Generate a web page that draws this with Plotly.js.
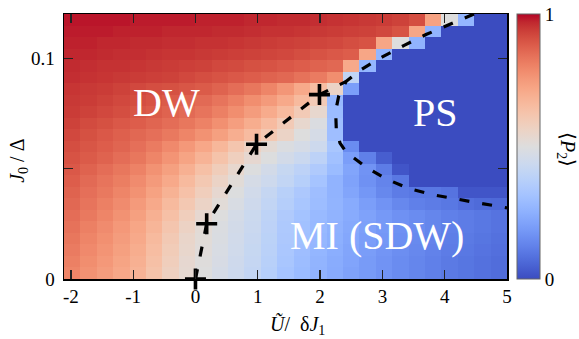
<!DOCTYPE html>
<html><head><meta charset="utf-8">
<script src="https://cdn.plot.ly/plotly-3.0.1.min.js"></script>
<style>html,body{margin:0;padding:0;background:#fff}</style>
</head><body><div id="chart" style="width:579px;height:339px"></div>
<script>
// <P2> values, rows from J0/Δ = 0 (bottom) upward, 27 columns from left to right
const p2Rows = [
[0.80,0.77,0.745,0.715,0.68,0.63,0.575,0.53,0.50,0.47,0.44,0.41,0.37,0.32,0.29,0.26,0.235,0.21,0.19,0.17,0.15,0.135,0.12,0.105,0.095,0.085,0.075],
[0.81,0.78,0.755,0.725,0.69,0.64,0.585,0.535,0.505,0.475,0.445,0.415,0.375,0.33,0.295,0.265,0.24,0.215,0.19,0.17,0.15,0.135,0.12,0.105,0.095,0.085,0.075],
[0.82,0.79,0.765,0.735,0.70,0.65,0.595,0.545,0.51,0.48,0.45,0.42,0.38,0.335,0.30,0.27,0.245,0.22,0.195,0.175,0.155,0.14,0.125,0.11,0.10,0.09,0.08],
[0.83,0.80,0.775,0.745,0.71,0.66,0.605,0.55,0.515,0.485,0.455,0.425,0.385,0.34,0.305,0.275,0.25,0.225,0.20,0.18,0.16,0.145,0.13,0.115,0.105,0.095,0.085],
[0.84,0.81,0.785,0.755,0.72,0.675,0.62,0.565,0.52,0.49,0.46,0.43,0.39,0.345,0.31,0.28,0.255,0.23,0.205,0.185,0.165,0.15,0.135,0.12,0.11,0.10,0.09],
[0.85,0.825,0.80,0.77,0.735,0.69,0.64,0.585,0.535,0.50,0.465,0.435,0.395,0.35,0.315,0.285,0.26,0.235,0.21,0.185,0.165,0.15,0.135,0.12,0.11,0.10,0.09],
[0.86,0.835,0.81,0.785,0.75,0.71,0.66,0.61,0.56,0.515,0.48,0.445,0.405,0.365,0.33,0.295,0.265,0.235,0.20,0.17,0.14,0.12,0.11,0.10,0.08,0.07,0.065],
[0.87,0.845,0.825,0.80,0.77,0.73,0.685,0.635,0.585,0.535,0.495,0.455,0.415,0.375,0.34,0.30,0.26,0.22,0.18,0.14,0.11,0.10,0.10,0.09,0.02,0.02,0.02],
[0.88,0.855,0.835,0.815,0.785,0.75,0.71,0.66,0.61,0.56,0.515,0.47,0.44,0.405,0.37,0.32,0.26,0.21,0.165,0.13,0.10,0,0,0,0,0,0],
[0.89,0.87,0.85,0.83,0.805,0.77,0.735,0.69,0.64,0.59,0.54,0.495,0.46,0.42,0.39,0.35,0.29,0.22,0.17,0.11,0.02,0,0,0,0,0,0],
[0.90,0.885,0.87,0.85,0.83,0.80,0.765,0.725,0.68,0.63,0.58,0.535,0.495,0.46,0.43,0.39,0.31,0.20,0.12,0.04,0,0,0,0,0,0,0],
[0.91,0.895,0.88,0.865,0.845,0.82,0.79,0.755,0.715,0.67,0.62,0.57,0.525,0.49,0.47,0.44,0.33,0.15,0,0,0,0,0,0,0,0,0],
[0.92,0.905,0.89,0.875,0.86,0.845,0.825,0.80,0.77,0.735,0.695,0.655,0.61,0.56,0.50,0.47,0.30,0,0,0,0,0,0,0,0,0,0],
[0.93,0.915,0.905,0.89,0.88,0.865,0.85,0.83,0.805,0.775,0.74,0.70,0.655,0.60,0.54,0.49,0.30,0,0,0,0,0,0,0,0,0,0],
[0.94,0.93,0.92,0.91,0.895,0.885,0.87,0.855,0.835,0.81,0.78,0.745,0.705,0.66,0.60,0.54,0.29,0,0,0,0,0,0,0,0,0,0],
[0.945,0.94,0.93,0.92,0.91,0.90,0.885,0.87,0.855,0.835,0.81,0.78,0.75,0.71,0.66,0.60,0.28,0,0,0,0,0,0,0,0,0,0],
[0.95,0.945,0.94,0.93,0.92,0.91,0.905,0.895,0.885,0.87,0.85,0.83,0.80,0.76,0.71,0.65,0.56,0.20,0,0,0,0,0,0,0,0,0],
[0.96,0.955,0.95,0.945,0.94,0.935,0.93,0.92,0.91,0.90,0.89,0.88,0.87,0.86,0.84,0.82,0.78,0.40,0,0,0,0,0,0,0,0,0],
[0.965,0.96,0.955,0.955,0.95,0.945,0.94,0.935,0.93,0.92,0.915,0.905,0.90,0.89,0.88,0.87,0.86,0.71,0.27,0,0,0,0,0,0,0,0],
[0.97,0.97,0.965,0.96,0.96,0.955,0.95,0.95,0.945,0.94,0.935,0.93,0.925,0.92,0.91,0.90,0.89,0.88,0.72,0.27,0,0,0,0,0,0,0],
[0.975,0.975,0.97,0.97,0.965,0.965,0.96,0.96,0.955,0.955,0.95,0.945,0.94,0.935,0.93,0.925,0.92,0.91,0.90,0.72,0.50,0.26,0,0,0,0,0],
[0.98,0.98,0.98,0.975,0.975,0.975,0.97,0.97,0.97,0.965,0.965,0.96,0.955,0.955,0.95,0.945,0.94,0.935,0.93,0.92,0.90,0.72,0.26,0,0,0,0],
[0.985,0.985,0.985,0.985,0.98,0.98,0.98,0.98,0.975,0.975,0.975,0.97,0.97,0.965,0.965,0.96,0.955,0.95,0.945,0.94,0.93,0.91,0.73,0.50,0.27,0,0]
];
// grid of the map
const gridX0 = -1.97835, gridDX = 0.26333;
const gridY0 = 0.0026087, gridDY = 0.0052174;

// DW / MI boundary and its computed points
const dwMiX = [0, 0.18, 0.98, 1.99, 2.42];
const dwMiY = [0, 0.025, 0.061, 0.0835, 0.0895];
const markX = [0, 0.18, 0.98, 1.99];
const markY = [0, 0.025, 0.061, 0.0835];
// PS boundary
const psX = [4.47, 4.06, 3.7, 3.35, 3.0, 2.66, 2.42, 2.3, 2.25, 2.26, 2.32, 2.42, 2.74, 3.06, 3.42, 3.8, 4.17, 4.55, 5.0];
const psY = [0.12, 0.115, 0.1107, 0.1058, 0.1006, 0.0948, 0.0895, 0.083, 0.076, 0.068, 0.0615, 0.0574, 0.0506, 0.0453, 0.041, 0.0382, 0.0365, 0.0344, 0.0322];

// ticks
const xTickVals = [-2, -1, 0, 1, 2, 3, 4, 5];
const xTickText = ['-2', '-1', '0', '1', '2', '3', '4', '5'];
const yTickVals = [0, 0.05, 0.1];
const yTickText = ['0', '', '0.1'];
const cbTickVals = [0, 1];
const cbTickText = ['0', '1'];

const coolwarm = [
[0,'rgb(59,76,192)'],[0.03125,'rgb(68,90,204)'],[0.0625,'rgb(77,104,215)'],[0.09375,'rgb(87,117,225)'],
[0.125,'rgb(98,130,234)'],[0.15625,'rgb(108,142,241)'],[0.1875,'rgb(119,154,247)'],[0.21875,'rgb(130,165,251)'],
[0.25,'rgb(141,176,254)'],[0.28125,'rgb(152,185,255)'],[0.3125,'rgb(163,194,255)'],[0.34375,'rgb(174,201,253)'],
[0.375,'rgb(184,208,249)'],[0.40625,'rgb(194,213,244)'],[0.4375,'rgb(204,217,238)'],[0.46875,'rgb(213,219,230)'],
[0.5,'rgb(221,221,221)'],[0.53125,'rgb(229,216,209)'],[0.5625,'rgb(236,211,197)'],[0.59375,'rgb(241,204,184)'],
[0.625,'rgb(245,196,172)'],[0.65625,'rgb(247,187,159)'],[0.6875,'rgb(247,177,147)'],[0.71875,'rgb(247,166,134)'],
[0.75,'rgb(244,154,123)'],[0.78125,'rgb(241,141,111)'],[0.8125,'rgb(236,127,99)'],[0.84375,'rgb(229,112,89)'],
[0.875,'rgb(222,96,77)'],[0.90625,'rgb(213,80,66)'],[0.9375,'rgb(203,62,56)'],[0.96875,'rgb(192,40,47)'],
[1,'rgb(180,4,38)']];

const FONT = 'Liberation Serif';

const traces = [
  {
    type: 'heatmap', z: p2Rows, x0: gridX0, dx: gridDX, y0: gridY0, dy: gridDY,
    zmin: 0, zmax: 1, colorscale: coolwarm, hoverinfo: 'skip',
    colorbar: {
      x: 1.0226, xanchor: 'left', xpad: 0, y: 0.5, yanchor: 'middle', ypad: 0,
      len: 1, lenmode: 'fraction', thickness: 23, thicknessmode: 'pixels',
      outlinewidth: 1, outlinecolor: '#666',
      tickvals: cbTickVals, ticktext: cbTickText, ticks: '',
      tickfont: {family: FONT, size: 19, color: '#000'}
    }
  },
  {
    type: 'scatter', mode: 'lines', x: psX, y: psY, hoverinfo: 'skip',
    line: {color: '#000', width: 3.2, dash: '10px,13px'}
  },
  {
    type: 'scatter', mode: 'lines', x: dwMiX, y: dwMiY, hoverinfo: 'skip',
    line: {color: '#000', width: 3.2, dash: '10px,13px'}
  },
  {
    type: 'scatter', mode: 'markers', x: markX, y: markY, hoverinfo: 'skip', cliponaxis: false,
    marker: {symbol: 'cross-thin', size: 15, color: '#000', line: {color: '#000', width: 3.6}}
  }
];

const axisCommon = {
  ticks: 'inside', ticklen: 9, tickwidth: 1.3, tickcolor: '#222',
  showline: true, linewidth: 1.5, linecolor: '#000', mirror: 'ticks',
  showgrid: false, zeroline: false,
  tickfont: {family: FONT, size: 19, color: '#000'}
};

const layout = {
  width: 579, height: 339,
  margin: {l: 64, r: 72, t: 14, b: 60},
  paper_bgcolor: '#fff', plot_bgcolor: '#fff',
  showlegend: false,
  font: {family: FONT, color: '#000'},
  xaxis: Object.assign({}, axisCommon, {range: [-2.11, 5], tickvals: xTickVals, ticktext: xTickText}),
  yaxis: Object.assign({}, axisCommon, {range: [0, 0.12], tickvals: yTickVals, ticktext: yTickText, ticklabelstandoff: 4}),
  shapes: [
    {type: 'line', xref: 'paper', yref: 'paper', x0: 1.0226, x1: 1.0384, y0: 0.5, y1: 0.5, line: {color: '#555', width: 1.2}},
    {type: 'line', xref: 'paper', yref: 'paper', x0: 1.0587, x1: 1.0745, y0: 0.5, y1: 0.5, line: {color: '#555', width: 1.2}}
  ],
  annotations: [
    {text: 'DW', x: -0.46, y: 0.080, xref: 'x', yref: 'y', xanchor: 'center', yanchor: 'middle', showarrow: false, font: {family: FONT, size: 40, color: '#fff'}},
    {text: 'PS', x: 3.86, y: 0.0752, xref: 'x', yref: 'y', xanchor: 'center', yanchor: 'middle', showarrow: false, font: {family: FONT, size: 40, color: '#fff'}},
    {text: 'MI (SDW)', x: 2.91, y: 0.0195, xref: 'x', yref: 'y', xanchor: 'center', yanchor: 'middle', showarrow: false, font: {family: FONT, size: 40, color: '#fff'}},
    {text: '<i>Ũ</i>/  δ<i>J</i><sub>1</sub>', x: 0.527, y: -0.172, xref: 'paper', yref: 'paper', xanchor: 'center', yanchor: 'middle', showarrow: false,
     font: {family: FONT, size: 20, color: '#000'}},
    {text: '<i>J</i><sub>0</sub> / Δ', x: -0.1016, y: 0.446, xref: 'paper', yref: 'paper', xanchor: 'center', yanchor: 'middle', showarrow: false, textangle: -90,
     font: {family: FONT, size: 20, color: '#000'}},
    {text: '⟨<i>P</i><sub>2</sub>⟩', x: 1.133, y: 0.487, xref: 'paper', yref: 'paper', xanchor: 'center', yanchor: 'middle', showarrow: false, textangle: 90,
     font: {family: FONT, size: 20, color: '#000'}}
  ]
};

Plotly.newPlot('chart', traces, layout, {displayModeBar: false, staticPlot: true});
</script>
</body></html>
